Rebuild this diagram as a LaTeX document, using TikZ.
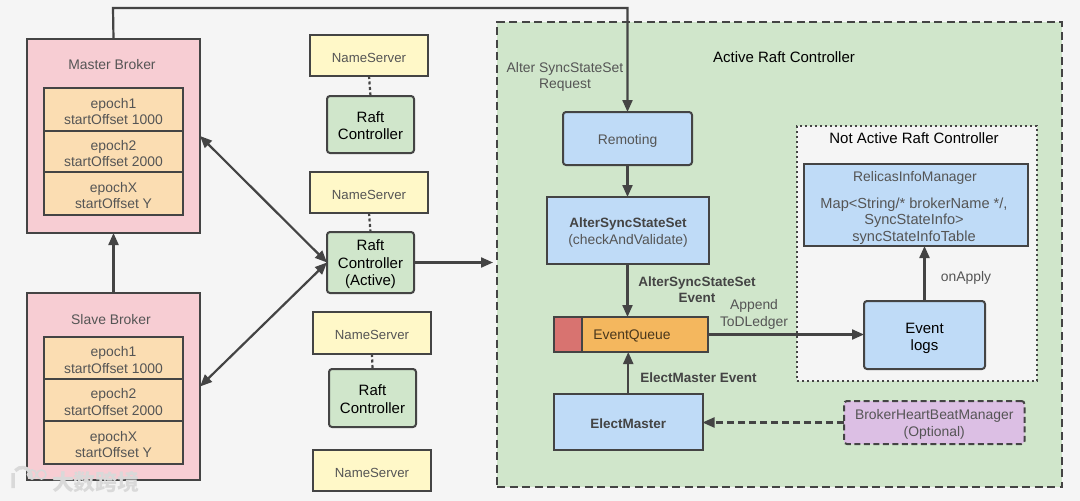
\documentclass[tikz,border=0pt]{standalone}
\usepackage{fontspec}
\setmainfont{Liberation Sans}
\newfontfamily\cjk{Noto Sans CJK SC}
\usetikzlibrary{arrows.meta}
\definecolor{bgc}{HTML}{F5F5F5}
\definecolor{edge}{HTML}{444444}
\definecolor{txt}{HTML}{555555}
\definecolor{pinkc}{HTML}{F7CDD3}
\definecolor{orangec}{HTML}{FBDDB2}
\definecolor{yellowc}{HTML}{FFF8C8}
\definecolor{greenc}{HTML}{D0E6CB}
\definecolor{bluec}{HTML}{BFDBF7}
\definecolor{queuec}{HTML}{F4B75E}
\definecolor{redc}{HTML}{D87370}
\definecolor{purplec}{HTML}{DCBFE4}
\definecolor{markc}{HTML}{D9D9D9}
\tikzset{
  x=1pt,y=-1pt,
  every node/.style={font=\fontsize{13.9}{16.3}\selectfont,text=txt,align=center,inner sep=0pt,outer sep=0pt},
  nslbl/.style={font=\fontsize{13.2}{16}\selectfont},
  darklbl/.style={font=\fontsize{15}{17.5}\selectfont,text=black},
  boldlbl/.style={font=\fontsize{13.5}{16.5}\selectfont\bfseries,text=edge},
  boxs/.style={draw=edge,line width=2pt},
  roundbox/.style={boxs,rounded corners=3pt},
  link/.style={draw=edge,line width=2.2pt,-{Triangle[length=12pt,width=10pt]}},
  bothlink/.style={draw=edge,line width=2.2pt,{Triangle[length=12pt,width=10pt]}-{Triangle[length=12pt,width=10pt]}},
  dotlink/.style={draw=edge,line width=2.2pt,dash pattern=on 3pt off 2.5pt},
}
% [text style], name, x0,y0,x1,y1, box style, text (the text sits a little below the centre, as in the reference)
\newcommand\bx[8][]{%
  \pgfmathsetmacro\cxx{(#3+#5)/2}%
  \pgfmathsetmacro\cyy{(#4+#6)/2}%
  \pgfmathsetmacro\wdd{#5-#3}%
  \pgfmathsetmacro\htt{#6-#4}%
  \pgfmathsetmacro\tyy{\cyy+2}%
  \node[#7,minimum width=\wdd pt,minimum height=\htt pt] (#2) at (\cxx,\cyy) {};
  \node[#1] (#2-text) at (\cxx,\tyy) {#8};}
\begin{document}
\begin{tikzpicture}
\useasboundingbox[fill=bgc] (0,0) rectangle (1080,501);
% big green panel
\bx{active}{497}{22}{1062}{487}{draw=edge,fill=greenc,line width=1.8pt,dash pattern=on 8pt off 4.5pt}{}
\bx{notactive}{797}{126}{1037}{381}{draw=edge,fill=bgc,line width=2pt,dash pattern=on 2pt off 3pt}{}
% brokers
\bx{master}{27}{39}{200}{233}{boxs,fill=pinkc}{}
\bx{slave}{27}{293}{200}{480}{boxs,fill=pinkc}{}
\node (mlabel) at (112,65) {Master Broker};
\node (slabel) at (111,320) {Slave Broker};
\bx{m1}{44}{88}{183}{131}{boxs,fill=orangec}{epoch1\\startOffset 1000}
\bx{m2}{44}{131}{183}{172}{boxs,fill=orangec}{epoch2\\startOffset 2000}
\bx{m3}{44}{172}{183}{215}{boxs,fill=orangec}{epochX\\startOffset Y}
\bx{s1}{44}{337}{183}{379}{boxs,fill=orangec}{epoch1\\startOffset 1000}
\bx{s2}{44}{379}{183}{421}{boxs,fill=orangec}{epoch2\\startOffset 2000}
\bx{s3}{44}{421}{183}{464}{boxs,fill=orangec}{epochX\\startOffset Y}
% name servers
\bx[nslbl]{ns1}{310}{35}{428}{76}{boxs,fill=yellowc}{NameServer}
\bx[nslbl]{ns2}{310}{172}{428}{213}{boxs,fill=yellowc}{NameServer}
\bx[nslbl]{ns3}{313}{312}{431}{354}{boxs,fill=yellowc}{NameServer}
\bx[nslbl]{ns4}{313}{450}{431}{491}{boxs,fill=yellowc}{NameServer}
\bx[darklbl,yshift=1pt]{r1}{327}{96}{414}{153}{roundbox,fill=greenc}{Raft\\Controller}
\bx[darklbl]{r2}{327}{232}{414}{293}{roundbox,fill=greenc}{Raft\\Controller\\(Active)}
\bx[darklbl,yshift=1pt]{r3}{329}{369}{416}{427}{roundbox,fill=greenc}{Raft\\Controller}
% panel contents
\node[darklbl] (activelabel) at (784,57) {Active Raft Controller};
\node[darklbl] (notlabel) at (914,138) {Not Active Raft Controller};
\node (reqlabel) at (565,77) {Alter SyncStateSet\\Request};
\bx{remoting}{563}{112}{692}{165}{roundbox,fill=bluec}{Remoting}
\bx{alter}{547}{197}{709}{264}{boxs,fill=bluec}{{\fontsize{13.5}{16.5}\selectfont\bfseries\color{edge}AlterSyncStateSet}\\(checkAndValidate)}
\bx{queue}{554}{317}{708}{352}{boxs,fill=queuec}{}
\bx{queuered}{554}{317}{581.5}{352}{boxs,fill=redc}{}
\node[text=black!70!queuec] (queuelabel) at (632,336) {EventQueue};
\bx[boldlbl]{elect}{554}{394}{702.5}{450}{boxs,fill=bluec}{ElectMaster}
\bx{relicas}{804}{164}{1028}{246}{boxs,fill=bluec}{}
\node (rel1) at (915,178) {RelicasInfoManager};
\node[font=\fontsize{14.6}{16.5}\selectfont] (rel2) at (914,221) {Map<String/* brokerName */,\\SyncStateInfo>\\syncStateInfoTable};
\bx[darklbl,yshift=-1.5pt]{logs}{864}{301}{985}{369}{roundbox,fill=bluec}{Event\\logs}
\bx{hb}{844}{401}{1024.5}{444}{roundbox,fill=purplec,dash pattern=on 6pt off 3.5pt}{BrokerHeartBeatManager\\(Optional)}
\node[boldlbl] (altevent) at (697,289.5) {AlterSyncStateSet\\Event};
\node[font=\fontsize{13.9}{17}\selectfont] (append) at (754,314) {Append\\ToDLedger};
\node (onapply) at (966,277.5) {onApply};
\node[boldlbl] (electevent) at (698.5,377.5) {ElectMaster Event};
% connectors
\coordinate (topleft) at (113,8);
\coordinate (topright) at (627.5,8);
\coordinate (panelin) at (493,262.5);
\draw[link] (master.north) -- (topleft) -- (topright) -- (remoting.north);
\draw[link] (slave.north) -- (master.south);
\draw[bothlink] (master.east) -- (r2.west);
\draw[bothlink] (slave.east) -- (r2.west);
\draw[link] (r2.east) -- (panelin);
\draw[dotlink] (ns1.south) -- (r1.north);
\draw[dotlink] (ns2.south) -- (r2.north);
\draw[dotlink] (ns3.south) -- (r3.north);
\draw[link] (remoting.south) -- (remoting.south |- alter.north);
\draw[link] (remoting.south |- alter.south) -- (remoting.south |- queue.north);
\draw[link] (elect.north) -- (elect.north |- queue.south);
\draw[link] (queue.east) -- (logs.west |- queue.east);
\draw[link] (logs.north) -- (logs.north |- relicas.south);
\draw[link,dash pattern=on 7pt off 4pt] (hb.west) -- (elect.east |- hb.west);
% watermark
\node[font=\cjk\bfseries\fontsize{22}{22}\selectfont,text=markc] (wm) at (96,482) {大数跨境};
\draw[markc,line width=3.5pt] (13,473) -- (13,488) (31,478) arc (10:-140:9);
\draw[markc,line width=1.6pt] (32,474.5) circle (4.5) (41.5,474.5) circle (4.5);
\end{tikzpicture}
\end{document}
